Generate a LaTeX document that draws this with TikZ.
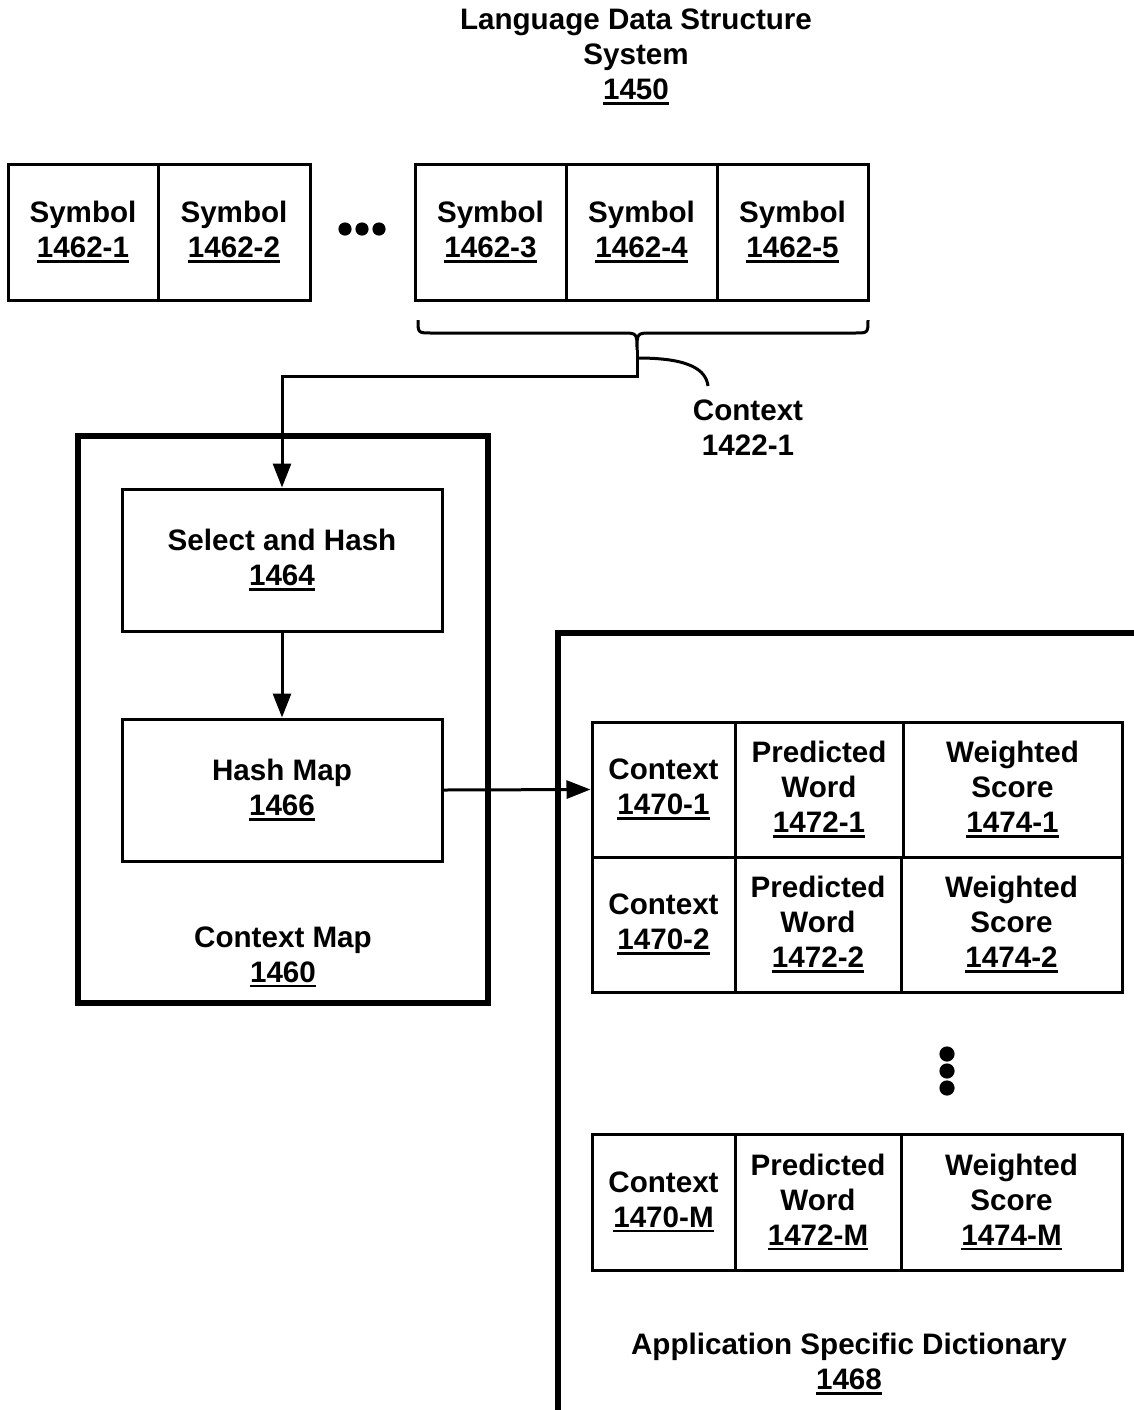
\documentclass[tikz,border=0pt]{standalone}
\usepackage{fontspec}
\setmainfont{Liberation Sans}
\usetikzlibrary{arrows.meta}
\newcommand{\un}[1]{\leavevmode\setbox0=\hbox{#1}\rlap{\rule[-2.6pt]{\wd0}{1.4pt}}\box0}
\tikzset{
  lbl/.style={align=center, font=\bfseries\fontsize{14.8}{17.5}\selectfont, inner sep=0pt},
  cell/.style={draw, line width=1.5pt, lbl},
  bigbox/.style={draw, line width=3pt, inner sep=0pt},
  arr/.style={line width=1.5pt, -{Triangle[length=12pt,width=9pt]}},
  thinline/.style={line width=1.5pt},
  dot/.style={fill=black}
}
\begin{document}
\begin{tikzpicture}[x=0.5pt,y=-0.5pt]
\useasboundingbox (0,0) rectangle (1134,1410);
% title
\node[lbl] (title) at (636,57) {Language Data Structure\\System\\\un{1450}};
% symbols
\node[cell, minimum width=75pt, minimum height=68pt] (s1) at (83,232) {Symbol\\\un{1462-1}};
\node[cell, minimum width=76pt, minimum height=68pt] (s2) at (234,232) {Symbol\\\un{1462-2}};
\node[cell, minimum width=75.5pt, minimum height=68pt] (s3) at (490.5,232) {Symbol\\\un{1462-3}};
\node[cell, minimum width=75.5pt, minimum height=68pt] (s4) at (641.5,232) {Symbol\\\un{1462-4}};
\node[cell, minimum width=75.5pt, minimum height=68pt] (s5) at (792.5,232) {Symbol\\\un{1462-5}};
% horizontal dots
\fill[dot] (345,229) circle (3.3pt) (362,229) circle (3.3pt) (379,229) circle (3.3pt);
% brace
\draw[thinline] (418,320) .. controls (418,333) .. (432,333) -- (622,333) .. controls (637,333) .. (637,350)
  .. controls (637,333) .. (652,333) -- (854,333) .. controls (868,333) .. (868,320);
\coordinate (bt) at (637,350);
% context label
\node[lbl] (ctxlbl) at (748,428) {Context\\1422-1};
\draw[thinline] (638,358) .. controls (690,358) and (706,370) .. (708,386);
% context map
\node[bigbox, minimum width=205pt, minimum height=283.5pt] (cmap) at (283,719.5) {};
\node[lbl] (cmaplbl) at (283,957) {Context Map\\\un{1460}};
\node[cell, minimum width=160pt, minimum height=71pt] (sel) at (282,560) {Select and Hash\\\un{1464}};
\node[cell, minimum width=160pt, minimum height=71pt] (hm) at (282,790) {Hash Map\\\un{1466}};
\draw[arr] (bt) -- ++(0,26) -| (sel.north);
\draw[arr] (sel) -- (hm);
% application specific dictionary
\node[bigbox, minimum width=294pt, minimum height=395pt, anchor=north west] (app) at (555,630) {};
\node[lbl] (applbl) at (849,1364) {Application Specific Dictionary\\\un{1468}};
% row 1
\node[cell, minimum width=71.5pt, minimum height=67.5pt] (c11) at (663.5,789.5) {Context\\\un{1470-1}};
\node[cell, minimum width=84pt, minimum height=67.5pt] (c12) at (819,789.5) {Predicted\\Word\\\un{1472-1}};
\node[cell, minimum width=109.5pt, minimum height=67.5pt] (c13) at (1012.5,789.5) {Weighted\\Score\\\un{1474-1}};
% row 2
\node[cell, minimum width=71.5pt, minimum height=67.5pt] (c21) at (663.5,924.5) {Context\\\un{1470-2}};
\node[cell, minimum width=83pt, minimum height=67.5pt] (c22) at (818,924.5) {Predicted\\Word\\\un{1472-2}};
\node[cell, minimum width=110.5pt, minimum height=67.5pt] (c23) at (1011.5,924.5) {Weighted\\Score\\\un{1474-2}};
% vertical dots
\fill[dot] (947,1054) circle (3.8pt) (947,1071) circle (3.8pt) (947,1088) circle (3.8pt);
% row M
\node[cell, minimum width=71.5pt, minimum height=68pt] (cm1) at (663.5,1202) {Context\\\un{1470-M}};
\node[cell, minimum width=83pt, minimum height=68pt] (cm2) at (818,1202) {Predicted\\Word\\\un{1472-M}};
\node[cell, minimum width=110.5pt, minimum height=68pt] (cm3) at (1011.5,1202) {Weighted\\Score\\\un{1474-M}};
% arrow hash map -> table
\draw[arr] (hm.east) -- (c11.west);
\end{tikzpicture}
\end{document}
